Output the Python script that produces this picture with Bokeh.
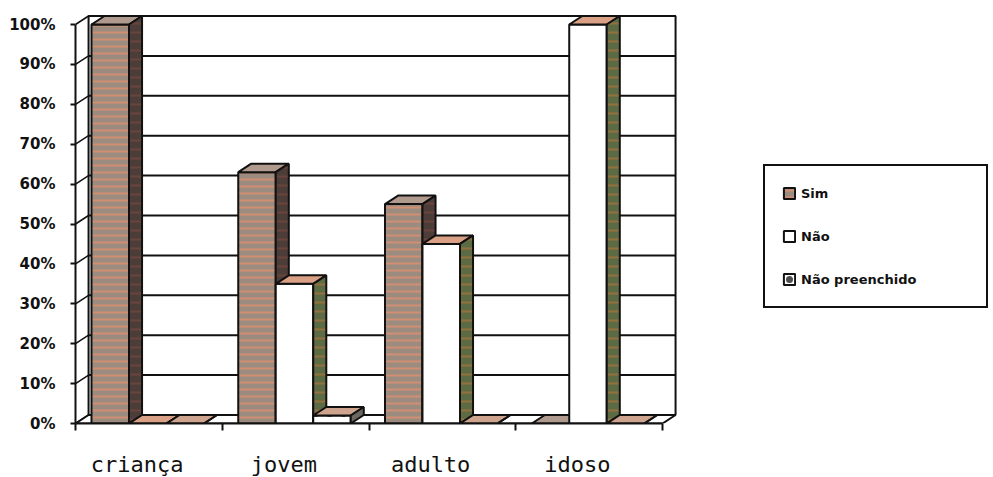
from bokeh.plotting import figure
from bokeh.models import Range1d, FixedTicker, Legend, LegendItem, ColumnDataSource
from bokeh.embed import file_html
from bokeh.resources import INLINE

# --- data -------------------------------------------------------------
categories = ["criança", "jovem", "adulto", "idoso"]
series_names = ["Sim", "Não", "Não preenchido"]
sim = [100, 63, 55, 0]
nao = [0, 35, 45, 100]
nao_preenchido = [0, 2, 0, 0]
y_ticks = [0, 10, 20, 30, 40, 50, 60, 70, 80, 90, 100]
y_tick_labels = ["0%", "10%", "20%", "30%", "40%", "50%", "60%", "70%", "80%", "90%", "100%"]

# --- 3D column geometry (data units) ----------------------------------
BAR_OFFSET = 0.109     # gap between category edge and first column
BAR_W = 0.2555         # column width
DEPTH_X = 0.089        # receding depth, horizontal part
DEPTH_Y = 2.13         # receding depth, vertical part
N = len(categories)

styles = [
    dict(front="#9c8b7f", hatch="horizontal_line", hatch_color="#dc9070", hatch_scale=7,
         top="#b09a8e", side="#4d3d38", side_hatch="#7a4a40"),
    dict(front="#ffffff", hatch=None, hatch_color=None, hatch_scale=None,
         top="#d9a085", side="#5d6b45", side_hatch="#b87438"),
    dict(front="#ffffff", hatch="dot", hatch_color="#222222", hatch_scale=14,
         top="#cfa48f", side="#6b6660", side_hatch=None),
]
values = [sim, nao, nao_preenchido]

p = figure(frame_width=918, frame_height=413, min_border_left=75, min_border_top=10,
           min_border_right=0, min_border_bottom=54,
           x_range=Range1d(0, 918 / 146.75), y_range=Range1d(0, 413 / 3.99),
           output_backend="svg", toolbar_location=None)
p.outline_line_color = None
p.background_fill_color = "white"
p.border_fill_color = "white"
p.xgrid.visible = False
p.ygrid.visible = False

# back wall with gridlines
p.quad(left=[DEPTH_X], right=[N + DEPTH_X], bottom=[DEPTH_Y], top=[100 + DEPTH_Y],
       fill_color="white", line_color="#111111", line_width=2)
p.segment(x0=[DEPTH_X] * len(y_ticks), y0=[t + DEPTH_Y for t in y_ticks],
          x1=[N + DEPTH_X] * len(y_ticks), y1=[t + DEPTH_Y for t in y_ticks],
          line_color="#111111", line_width=2)
# side wall: receding tick lines from the value axis to the back wall
p.segment(x0=[0] * len(y_ticks), y0=y_ticks,
          x1=[DEPTH_X] * len(y_ticks), y1=[t + DEPTH_Y for t in y_ticks],
          line_color="#111111", line_width=1.5)
# floor
p.patch(x=[0, N, N + DEPTH_X, DEPTH_X], y=[0, 0, DEPTH_Y, DEPTH_Y],
        fill_color="white", line_color="#111111", line_width=2)

front_renderers = []
for j, (vals, st) in enumerate(zip(values, styles)):
    x0 = [i + BAR_OFFSET + j * BAR_W for i in range(N)]
    x1 = [a + BAR_W for a in x0]
    src = ColumnDataSource(dict(left=x0, right=x1, top=vals))
    kw = dict(fill_color=st["front"], line_color="#111111", line_width=2)
    if st["hatch"]:
        kw.update(hatch_pattern=st["hatch"], hatch_color=st["hatch_color"],
                  hatch_scale=st["hatch_scale"], hatch_weight=2, hatch_alpha=0.8)
    fr = p.quad(left="left", right="right", bottom=0, top="top", source=src, **kw)
    front_renderers.append(fr)
    # top faces
    top_xs = [[a, b, b + DEPTH_X, a + DEPTH_X] for a, b in zip(x0, x1)]
    top_ys = [[v, v, v + DEPTH_Y, v + DEPTH_Y] for v in vals]
    p.patches(xs=top_xs, ys=top_ys, fill_color=st["top"], line_color="#111111", line_width=2)
    # side faces
    side_xs = [[b, b, b + DEPTH_X, b + DEPTH_X] for b in x1]
    side_ys = [[0, v, v + DEPTH_Y, DEPTH_Y] for v in vals]
    skw = dict(fill_color=st["side"], line_color="#111111", line_width=2)
    if st["side_hatch"]:
        skw.update(hatch_pattern="horizontal_line", hatch_color=st["side_hatch"],
                   hatch_scale=9, hatch_weight=2, hatch_alpha=0.6)
    p.patches(xs=side_xs, ys=side_ys, **skw)

# --- axes ---------------------------------------------------------------
yax = p.yaxis[0]
yax.bounds = (0, 100)
yax.ticker = FixedTicker(ticks=y_ticks, minor_ticks=[])
yax.major_label_overrides = {t: lab for t, lab in zip(y_ticks, y_tick_labels)}
yax.axis_line_color = "#111111"
yax.axis_line_width = 2
yax.major_tick_line_color = "#111111"
yax.major_tick_line_width = 2
yax.major_tick_out = 5
yax.major_tick_in = 0
yax.major_label_standoff = 15
yax.major_label_text_font = "DejaVu Sans"
yax.major_label_text_font_style = "bold"
yax.major_label_text_font_size = "15px"
yax.major_label_text_color = "#111111"

label_pos = [i + 0.42 for i in range(N)]
xax = p.xaxis[0]
xax.bounds = (0, N)
xax.ticker = FixedTicker(ticks=label_pos, minor_ticks=list(range(N + 1)))
xax.major_label_overrides = {pos: c for pos, c in zip(label_pos, categories)}
xax.axis_line_color = "#111111"
xax.axis_line_width = 2
xax.major_tick_line_color = None
xax.major_tick_out = 0
xax.major_tick_in = 0
xax.minor_tick_line_color = "#111111"
xax.minor_tick_line_width = 2
xax.minor_tick_out = 7
xax.minor_tick_in = 0
xax.major_label_standoff = 21
xax.major_label_text_font = "DejaVu Sans Mono"
xax.major_label_text_font_size = "22px"
xax.major_label_text_color = "#111111"

# --- legend -------------------------------------------------------------
legend = Legend(items=[
    LegendItem(label=name, renderers=[r]) for name, r in zip(series_names, front_renderers)
], location=(688, 115))
legend.border_line_color = "#111111"
legend.border_line_width = 2
legend.border_line_alpha = 1
legend.background_fill_color = "white"
legend.background_fill_alpha = 1
legend.padding = 17
legend.spacing = 23
legend.glyph_width = 14
legend.glyph_height = 14
legend.label_standoff = 5
legend.label_width = 168
legend.label_height = 20
legend.label_text_font = "DejaVu Sans"
legend.label_text_font_style = "bold"
legend.label_text_font_size = "13px"
legend.label_text_color = "#111111"
legend.margin = 0
p.add_layout(legend)

open("out.html", "w").write(file_html(p, INLINE))
